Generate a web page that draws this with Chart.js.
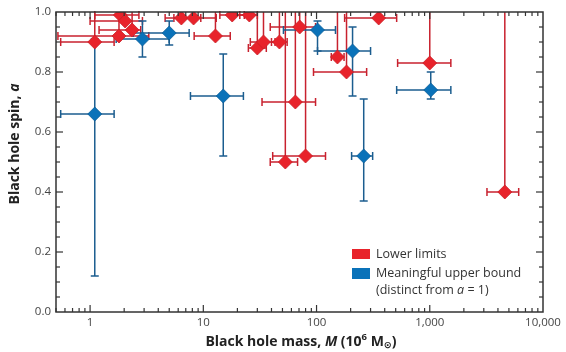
<!DOCTYPE html>
<html>
<head>
<meta charset="utf-8">
<script src="https://cdn.jsdelivr.net/npm/chart.js@4.4.1/dist/chart.umd.min.js"></script>
<style>
  html, body { margin: 0; padding: 0; background: #fff; }
  #wrap { width: 566px; height: 352px; }
</style>
</head>
<body>
<div id="wrap"><canvas id="chart" width="566" height="352"></canvas></div>
<script>
// lower limits (red): mass in 10^6 Msun, spin, mass range
var redMass   = [1.1, 1.8, 1.85, 2.04, 2.35, 6.4, 8.2, 12.8, 18, 25.5, 30, 34, 47, 71, 65, 53, 80, 153, 184, 354, 1000, 4600]
var redSpin   = [0.90, 0.92, 0.99, 0.97, 0.94, 0.98, 0.98, 0.92, 0.99, 0.99, 0.88, 0.90, 0.90, 0.95, 0.70, 0.50, 0.52, 0.85, 0.80, 0.98, 0.83, 0.40]
var redMassLo = [0.55, 0.52, 1.1, 1.0, 1.2, 4.6, 5.5, 8.3, 14, 21, 25, 26, 40, 39, 33, 39, 41, 135, 94, 177, 520, 3200]
var redMassHi = [1.63, 3.3, 2.7, 2.9, 2.8, 9.5, 13, 17.3, 23, 30, 36, 43, 55, 98, 98, 68, 120, 175, 277, 510, 1535, 6100]

// meaningful upper bound (blue)
var blueMass   = [1.1, 2.9, 5.0, 15, 102, 208, 261, 1020]
var blueSpin   = [0.66, 0.91, 0.93, 0.72, 0.94, 0.87, 0.52, 0.74]
var blueMassLo = [0.55, 1.7, 2.4, 7.7, 51, 102, 204, 510]
var blueMassHi = [1.63, 5.0, 7.5, 22.6, 147, 300, 313, 1535]
var blueSpinLo = [0.12, 0.85, 0.89, 0.52, 0.87, 0.72, 0.37, 0.71]
var blueSpinHi = [0.91, 0.97, 0.97, 0.86, 0.97, 0.95, 0.71, 0.80]

var xTickValues = [1, 10, 100, 1000, 10000]
var xTickLabels = ["1", "10", "100", "1,000", "10,000"]
var yTickValues = [0, 0.2, 0.4, 0.6, 0.8, 1.0]

var FONT = "'Open Sans', 'DejaVu Sans', sans-serif"
var RED = "#e8232b", RED_BAR = "#c8212e"
var BLUE = "#0a72b9", BLUE_BAR = "#1b5d8f"
var AXIS = "#333333"

function toPoints(xs, ys) {
    var pts = []
    for (var i = 0; i < xs.length; i++) {
        pts.push({ x: xs[i], y: ys[i] })
    }
    return pts
}

function capV(ctx, x, y, h) {
    ctx.beginPath(); ctx.moveTo(x, y - h); ctx.lineTo(x, y + h); ctx.stroke()
}
function capH(ctx, x, y, w) {
    ctx.beginPath(); ctx.moveTo(x - w, y); ctx.lineTo(x + w, y); ctx.stroke()
}
function line(ctx, x1, y1, x2, y2) {
    ctx.beginPath(); ctx.moveTo(x1, y1); ctx.lineTo(x2, y2); ctx.stroke()
}

var errorBars = {
    id: "errorBars",
    beforeDatasetsDraw: function (chart) {
        var ctx = chart.ctx, xs = chart.scales.x, ys = chart.scales.y, a = chart.chartArea
        ctx.save()
        ctx.beginPath()
        ctx.rect(a.left, a.top - 1, a.right - a.left, a.bottom - a.top + 2)
        ctx.clip()
        ctx.lineWidth = 1.5

        ctx.strokeStyle = RED_BAR
        for (var i = 0; i < redMass.length; i++) {
            var px = xs.getPixelForValue(redMass[i]), py = ys.getPixelForValue(redSpin[i])
            var l = xs.getPixelForValue(redMassLo[i]), r = xs.getPixelForValue(redMassHi[i])
            line(ctx, px, py, px, ys.getPixelForValue(1))
            line(ctx, l, py, r, py)
            capV(ctx, l, py, 4); capV(ctx, r, py, 4)
        }

        ctx.strokeStyle = BLUE_BAR
        for (var j = 0; j < blueMass.length; j++) {
            var bx = xs.getPixelForValue(blueMass[j]), by = ys.getPixelForValue(blueSpin[j])
            var bl = xs.getPixelForValue(blueMassLo[j]), br = xs.getPixelForValue(blueMassHi[j])
            var bt = ys.getPixelForValue(blueSpinHi[j]), bb = ys.getPixelForValue(blueSpinLo[j])
            line(ctx, bl, by, br, by)
            line(ctx, bx, bt, bx, bb)
            capV(ctx, bl, by, 4); capV(ctx, br, by, 4)
            capH(ctx, bx, bt, 4); capH(ctx, bx, bb, 4)
        }
        ctx.restore()
    }
}

// frame, inward ticks, axis titles and legend
var decorations = {
    id: "decorations",
    afterDraw: function (chart) {
        var ctx = chart.ctx, xs = chart.scales.x, ys = chart.scales.y, a = chart.chartArea
        ctx.save()
        ctx.strokeStyle = AXIS
        ctx.lineWidth = 1.5
        ctx.strokeRect(a.left, a.top, a.right - a.left, a.bottom - a.top)

        ctx.lineWidth = 1.2
        // x ticks on bottom and top
        for (var d = 0.1; d < 10000; d *= 10) {
            for (var k = 1; k < 10; k++) {
                var v = d * k
                if (v < 0.5 || v > 10000) continue
                var px = xs.getPixelForValue(v)
                var len = k == 1 ? 7 : 4
                line(ctx, px, a.bottom, px, a.bottom - len)
                line(ctx, px, a.top, px, a.top + len)
            }
        }
        // y ticks on left and right
        for (var t = 1; t < 20; t++) {
            var py = ys.getPixelForValue(t * 0.05)
            var ylen = t % 4 == 0 ? 7 : 4
            line(ctx, a.left, py, a.left + ylen, py)
            line(ctx, a.right, py, a.right - ylen, py)
        }

        // x title
        ctx.fillStyle = "#222"
        ctx.textBaseline = "alphabetic"
        var parts = [
            ["Black hole mass, ", "bold 14px " + FONT, 0],
            ["M", "italic bold 14px " + FONT, 0],
            [" (10", "bold 14px " + FONT, 0],
            ["6", "bold 9.5px " + FONT, -6],
            [" M", "bold 14px " + FONT, 0],
            ["\u2299", "bold 9.5px 'DejaVu Sans'", 2],
            [")", "bold 14px " + FONT, 0]
        ]
        var total = 0
        parts.forEach(function (p) { ctx.font = p[1]; total += ctx.measureText(p[0]).width })
        var x0 = 301 - total / 2
        parts.forEach(function (p) {
            ctx.font = p[1]
            ctx.fillText(p[0], x0, 346 + p[2])
            x0 += ctx.measureText(p[0]).width
        })

        // y title
        ctx.save()
        ctx.translate(19, 144)
        ctx.rotate(-Math.PI / 2)
        var yparts = [
            ["Black hole spin, ", "bold 14px " + FONT],
            ["a", "italic bold 14px " + FONT]
        ]
        var ytotal = 0
        yparts.forEach(function (p) { ctx.font = p[1]; ytotal += ctx.measureText(p[0]).width })
        var y0 = -ytotal / 2
        yparts.forEach(function (p) {
            ctx.font = p[1]
            ctx.fillText(p[0], y0, 0)
            y0 += ctx.measureText(p[0]).width
        })
        ctx.restore()

        // legend
        ctx.fillStyle = RED
        ctx.fillRect(352, 249, 18, 10)
        ctx.fillStyle = BLUE
        ctx.fillRect(352, 268, 18, 11)
        ctx.fillStyle = "#333"
        ctx.textBaseline = "middle"
        ctx.font = "12.5px " + FONT
        ctx.fillText("Lower limits", 376, 254)
        ctx.fillText("Meaningful upper bound", 376, 273)
        var lx = 376
        var lparts = [["(distinct from ", "12.5px " + FONT], ["a", "italic 12.5px " + FONT], [" = 1)", "12.5px " + FONT]]
        lparts.forEach(function (p) {
            ctx.font = p[1]
            ctx.fillText(p[0], lx, 290)
            lx += ctx.measureText(p[0]).width
        })
        ctx.restore()
    }
}

var ctx = document.getElementById("chart").getContext("2d")
var chart = new Chart(ctx, {
    type: "scatter",
    data: {
        datasets: [{
            label: "Lower limits",
            data: toPoints(redMass, redSpin),
            pointStyle: "rectRot",
            pointRadius: 7,
            backgroundColor: RED,
            borderColor: "#cc1f27",
            borderWidth: 0.8
        }, {
            label: "Meaningful upper bound",
            data: toPoints(blueMass, blueSpin),
            pointStyle: "rectRot",
            pointRadius: 7,
            backgroundColor: BLUE,
            borderColor: "#0b5e99",
            borderWidth: 0.8
        }]
    },
    options: {
        responsive: false,
        animation: false,
        events: [],
        layout: { padding: { top: 12, right: 23, left: 0, bottom: 0 } },
        plugins: {
            legend: { display: false },
            tooltip: { enabled: false }
        },
        scales: {
            x: {
                type: "logarithmic",
                min: 0.5,
                max: 10000,
                afterBuildTicks: function (scale) {
                    scale.ticks = xTickValues.map(function (v) { return { value: v } })
                },
                afterFit: function (scale) { scale.height = 40 },
                ticks: {
                    autoSkip: false,
                    maxRotation: 0,
                    padding: 4,
                    color: "#444",
                    font: { family: FONT, size: 11.5 },
                    callback: function (value) {
                        var idx = xTickValues.indexOf(value)
                        return idx >= 0 ? xTickLabels[idx] : ""
                    }
                },
                grid: { display: false, drawTicks: false },
                border: { display: false }
            },
            y: {
                min: 0,
                max: 1,
                afterBuildTicks: function (scale) {
                    scale.ticks = yTickValues.map(function (v) { return { value: v } })
                },
                afterFit: function (scale) { scale.width = 56 },
                ticks: {
                    padding: 5,
                    color: "#444",
                    font: { family: FONT, size: 11.5 },
                    callback: function (value) { return value.toFixed(1) }
                },
                grid: { display: false, drawTicks: false },
                border: { display: false }
            }
        }
    },
    plugins: [errorBars, decorations]
})
</script>
</body>
</html>
